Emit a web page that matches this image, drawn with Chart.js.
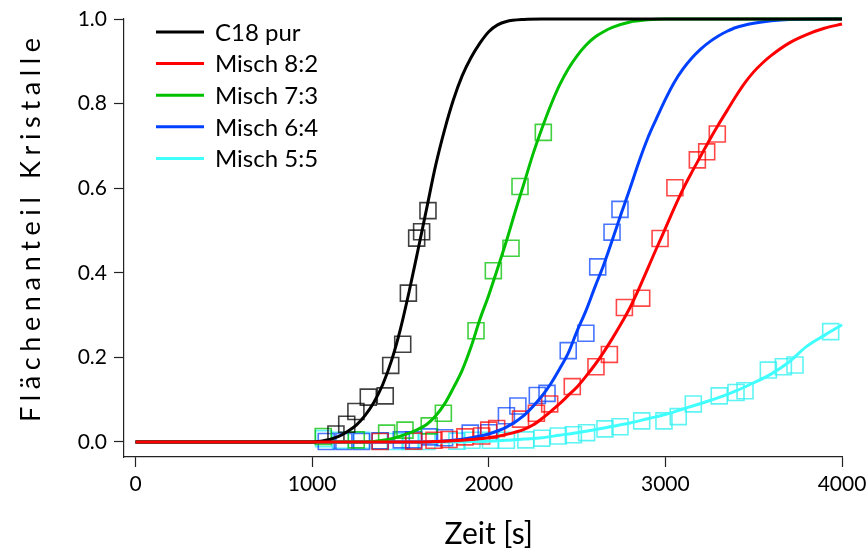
<!DOCTYPE html>
<html>
<head>
<meta charset="utf-8">
<script src="https://cdn.jsdelivr.net/npm/chart.js@4/dist/chart.umd.min.js"></script>
<style>
  html, body { margin: 0; padding: 0; background: #fff; }
  #kinetik { display: block; }
</style>
</head>
<body>
<canvas id="kinetik" width="866" height="551"></canvas>
<script>
// Kurven (Anpassung)
const c18T = [0, 1000, 1050, 1100, 1150, 1200, 1250, 1300, 1350, 1400, 1450, 1500, 1550, 1600, 1650, 1700, 1750, 1800, 1850, 1900, 1950, 2000, 2050, 2100, 2200, 2300, 4000];
const c18Y = [0, 0, 0.002, 0.006, 0.013, 0.025, 0.040, 0.063, 0.094, 0.136, 0.193, 0.267, 0.357, 0.455, 0.555, 0.655, 0.738, 0.809, 0.866, 0.909, 0.943, 0.970, 0.986, 0.994, 0.999, 1.0, 1.0];

const m82T = [0, 1600, 1700, 1800, 1900, 2000, 2100, 2200, 2250, 2300, 2350, 2400, 2450, 2500, 2550, 2600, 2650, 2700, 2750, 2800, 2850, 2900, 2950, 3000, 3050, 3100, 3150, 3200, 3250, 3300, 3350, 3400, 3450, 3500, 3550, 3600, 3700, 3800, 3900, 4000];
const m82Y = [0, 0, 0.001, 0.003, 0.006, 0.010, 0.018, 0.030, 0.040, 0.055, 0.072, 0.090, 0.110, 0.130, 0.155, 0.182, 0.212, 0.245, 0.280, 0.318, 0.362, 0.410, 0.458, 0.505, 0.553, 0.598, 0.638, 0.676, 0.714, 0.750, 0.784, 0.818, 0.849, 0.875, 0.896, 0.914, 0.943, 0.963, 0.978, 0.988];

const m73T = [0, 1300, 1350, 1400, 1450, 1500, 1550, 1600, 1650, 1700, 1750, 1800, 1850, 1900, 1950, 2000, 2050, 2100, 2150, 2200, 2250, 2300, 2350, 2400, 2450, 2500, 2550, 2600, 2650, 2700, 2800, 2900, 3000, 4000];
const m73Y = [0, 0, 0.001, 0.004, 0.008, 0.014, 0.021, 0.030, 0.042, 0.062, 0.090, 0.128, 0.170, 0.225, 0.290, 0.347, 0.410, 0.475, 0.545, 0.612, 0.680, 0.740, 0.795, 0.843, 0.882, 0.913, 0.938, 0.957, 0.970, 0.980, 0.993, 0.998, 1.0, 1.0];

const m64T = [0, 1650, 1700, 1800, 1900, 2000, 2100, 2200, 2300, 2350, 2400, 2450, 2500, 2550, 2600, 2650, 2700, 2750, 2800, 2850, 2900, 2950, 3000, 3050, 3100, 3150, 3200, 3250, 3300, 3350, 3400, 3500, 3600, 3700, 4000];
const m64Y = [0, 0, 0.001, 0.004, 0.010, 0.019, 0.035, 0.063, 0.108, 0.137, 0.172, 0.210, 0.262, 0.310, 0.365, 0.418, 0.478, 0.540, 0.600, 0.662, 0.718, 0.765, 0.810, 0.850, 0.882, 0.908, 0.929, 0.946, 0.960, 0.971, 0.980, 0.990, 0.996, 0.999, 1.0];

const m55T = [0, 1800, 1900, 2000, 2100, 2200, 2300, 2400, 2500, 2600, 2700, 2800, 2900, 3000, 3100, 3200, 3300, 3400, 3500, 3600, 3700, 3800, 3900, 4000];
const m55Y = [0, 0, 0.001, 0.002, 0.004, 0.007, 0.010, 0.016, 0.022, 0.029, 0.037, 0.045, 0.055, 0.065, 0.078, 0.091, 0.105, 0.121, 0.140, 0.161, 0.189, 0.226, 0.252, 0.277];

// Messpunkte (Quadrate)
const c18PtT = [1135, 1196, 1248, 1318, 1414, 1445, 1513, 1545, 1592, 1620, 1656];
const c18PtY = [0.019, 0.042, 0.072, 0.106, 0.109, 0.181, 0.231, 0.352, 0.482, 0.497, 0.547];

const m82PtT = [1385, 1575, 1690, 1775, 1865, 1960, 2000, 2045, 2180, 2270, 2345, 2473, 2607, 2683, 2768, 2866, 2970, 3054, 3181, 3234, 3294];
const m82PtY = [0.001, 0.002, 0.004, 0.006, 0.012, 0.014, 0.028, 0.032, 0.054, 0.068, 0.090, 0.131, 0.178, 0.207, 0.318, 0.340, 0.481, 0.601, 0.667, 0.686, 0.728];

const m73PtT = [1063, 1250, 1422, 1526, 1663, 1743, 1928, 2026, 2126, 2177, 2309];
const m73PtY = [0.013, 0.005, 0.021, 0.028, 0.038, 0.068, 0.263, 0.405, 0.458, 0.604, 0.732];

const m64PtT = [1080, 1180, 1280, 1385, 1505, 1575, 1665, 1750, 1895, 2000, 2100, 2165, 2275, 2330, 2450, 2550, 2617, 2698, 2743];
const m64PtY = [0.001, 0.001, 0.001, 0.003, 0.005, 0.005, 0.012, 0.010, 0.021, 0.022, 0.062, 0.085, 0.110, 0.115, 0.216, 0.257, 0.414, 0.496, 0.550];

const m55PtT = [1065, 1160, 1280, 1385, 1470, 1555, 1650, 1820, 1905, 2010, 2100, 2210, 2300, 2394, 2479, 2554, 2658, 2743, 2866, 2992, 3073, 3158, 3305, 3400, 3451, 3583, 3668, 3734, 3936];
const m55PtY = [0.008, 0.004, 0.004, 0.002, 0.001, 0.001, 0.001, 0.002, 0.004, 0.004, 0.004, 0.005, 0.009, 0.014, 0.017, 0.022, 0.031, 0.036, 0.050, 0.050, 0.060, 0.090, 0.109, 0.117, 0.121, 0.170, 0.178, 0.182, 0.261];

// Achsen
const xTicks = [0, 1000, 2000, 3000, 4000];
const yTicks = [0, 0.2, 0.4, 0.6, 0.8, 1.0];

const serien = [
  { label: 'C18 pur',   farbe: '#000000', punkt: 'rgba(0,0,0,0.75)',      t: c18T, y: c18Y, pt: c18PtT, py: c18PtY },
  { label: 'Misch 8:2', farbe: '#ff0000', punkt: 'rgba(255,0,0,0.72)',    t: m82T, y: m82Y, pt: m82PtT, py: m82PtY },
  { label: 'Misch 7:3', farbe: '#00c000', punkt: 'rgba(0,192,0,0.75)',    t: m73T, y: m73Y, pt: m73PtT, py: m73PtY },
  { label: 'Misch 6:4', farbe: '#0040ff', punkt: 'rgba(0,64,255,0.72)',   t: m64T, y: m64Y, pt: m64PtT, py: m64PtY },
  { label: 'Misch 5:5', farbe: '#40ffff', punkt: 'rgba(40,240,240,0.75)', t: m55T, y: m55Y, pt: m55PtT, py: m55PtY }
];

const zOrdnung = [1, 0, 2, 3, 4]; // rot liegt oben
const pairs = (a, b) => a.map((v, i) => ({ x: v, y: b[i] }));

const datasets = [];
serien.forEach((s, i) => {
  datasets.push({
    label: s.label,
    data: pairs(s.t, s.y),
    borderColor: s.farbe,
    borderWidth: 3,
    pointRadius: 0,
    cubicInterpolationMode: 'monotone',
    fill: false,
    clip: 6,
    order: zOrdnung[i]
  });
});
serien.forEach((s, i) => {
  datasets.push({
    label: s.label + ' Messung',
    data: pairs(s.pt, s.py),
    showLine: false,
    pointStyle: 'rect',
    pointRadius: 11.3,
    pointBorderWidth: 1.6,
    pointBorderColor: s.punkt,
    pointBackgroundColor: 'rgba(0,0,0,0)',
    clip: 12,
    order: 10 + i
  });
});

const SCHRIFT = 'Lato, "Noto Sans", sans-serif';

// Legende und Achsentitel selbst zeichnen
const beschriftung = {
  id: 'beschriftung',
  afterDraw(chart) {
    const ctx = chart.ctx;
    const xs = chart.scales.x;
    ctx.save();
    ctx.fillStyle = '#000';

    // Legende
    ctx.font = '24px ' + SCHRIFT;
    ctx.textBaseline = 'middle';
    ctx.textAlign = 'left';
    serien.forEach((s, i) => {
      const y = 32 + i * 31.6;
      ctx.strokeStyle = s.farbe;
      ctx.lineWidth = 3;
      ctx.beginPath();
      ctx.moveTo(156, y);
      ctx.lineTo(204, y);
      ctx.stroke();
      ctx.fillText(s.label, 215, y + 1);
    });

    // x-Titel
    ctx.font = '30px ' + SCHRIFT;
    ctx.textAlign = 'center';
    const xm = (xs.getPixelForValue(0) + xs.getPixelForValue(4000)) / 2;
    ctx.fillText('Zeit [s]', xm, 534);

    // y-Titel, gesperrt
    const txt = 'Flächenanteil Kristalle';
    ctx.font = '27px ' + SCHRIFT;
    const w0 = ctx.measureText(txt).width;
    const ziel = 384;
    ctx.letterSpacing = ((ziel - w0) / (txt.length - 1)).toFixed(2) + 'px';
    ctx.translate(31, 230);
    ctx.rotate(-Math.PI / 2);
    ctx.textAlign = 'left';
    ctx.fillText(txt, -ziel / 2, 0);
    ctx.restore();
  }
};

const ctx = document.getElementById('kinetik').getContext('2d');
new Chart(ctx, {
  type: 'line',
  data: { datasets: datasets },
  options: {
    responsive: false,
    devicePixelRatio: 1,
    animation: false,
    events: [],
    layout: { padding: { top: 19, right: 24, left: 0, bottom: 0 } },
    plugins: { legend: { display: false }, tooltip: { enabled: false } },
    scales: {
      x: {
        type: 'linear',
        min: -65,
        max: 4000,
        afterBuildTicks: s => { s.ticks = xTicks.map(v => ({ value: v })); },
        afterFit: s => { s.height = 551 - 457; s.paddingLeft = 0; s.paddingRight = 0; },
        border: { display: true, color: '#222', width: 1.2 },
        grid: { drawOnChartArea: false, drawTicks: true, tickLength: 10, color: '#222', tickWidth: 1.2 },
        ticks: {
          color: '#000',
          padding: 5,
          maxRotation: 0,
          font: { family: SCHRIFT, size: 21 },
          callback: v => String(v)
        }
      },
      y: {
        type: 'linear',
        min: -0.0355,
        max: 1.0,
        afterBuildTicks: s => { s.ticks = yTicks.map(v => ({ value: v })); },
        afterFit: s => { s.width = 124; s.paddingTop = 0; s.paddingBottom = 0; },
        border: { display: true, color: '#222', width: 1.2 },
        grid: { drawOnChartArea: false, drawTicks: true, tickLength: 10, color: '#222', tickWidth: 1.2 },
        ticks: {
          color: '#000',
          padding: 7,
          font: { family: SCHRIFT, size: 21 },
          callback: v => v.toFixed(1)
        }
      }
    }
  },
  plugins: [beschriftung]
});
</script>
</body>
</html>
